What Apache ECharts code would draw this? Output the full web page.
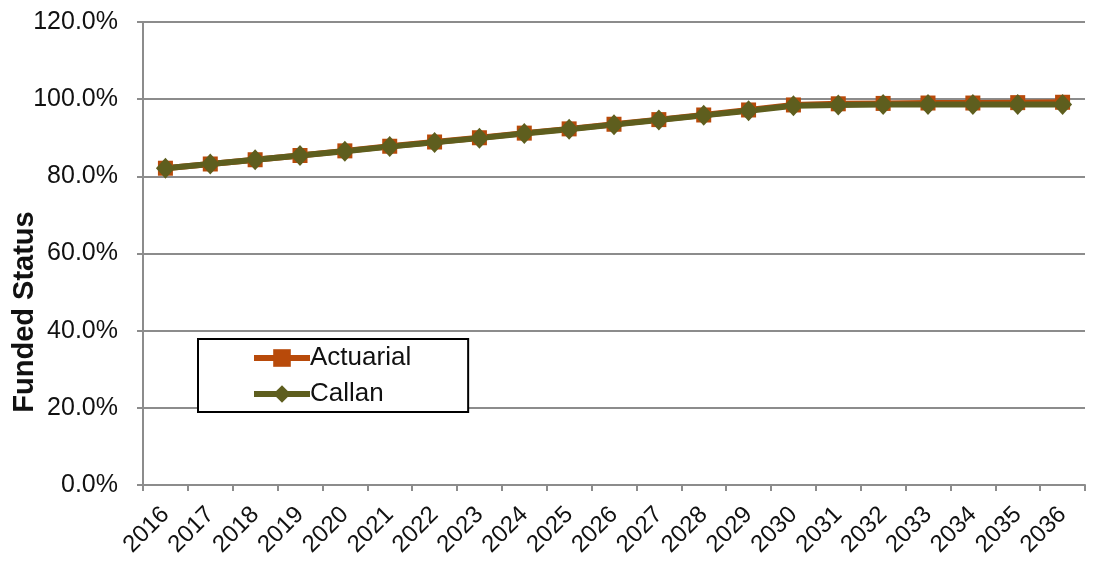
<!DOCTYPE html>
<html>
<head>
<meta charset="utf-8">
<script src="https://cdn.jsdelivr.net/npm/echarts@6/dist/echarts.min.js"></script>
<style>html,body{margin:0;padding:0;background:#fff;}#c{width:1099px;height:561px;}</style>
</head>
<body>
<div id="c"></div>
<script>
const years = ['2016','2017','2018','2019','2020','2021','2022','2023','2024','2025','2026','2027','2028','2029','2030','2031','2032','2033','2034','2035','2036'];
const actuarial = [82.1, 83.2, 84.3, 85.4, 86.6, 87.8, 88.9, 90.0, 91.2, 92.3, 93.5, 94.7, 95.9, 97.2, 98.5, 98.8, 98.9, 99.0, 99.0, 99.1, 99.2];
const callan = [82.1, 83.2, 84.3, 85.4, 86.5, 87.7, 88.8, 89.9, 91.1, 92.2, 93.4, 94.6, 95.8, 97.0, 98.3, 98.5, 98.6, 98.6, 98.6, 98.6, 98.6];
const yTicks = {min: 0, max: 120, interval: 20};

const chart = echarts.init(document.getElementById('c'), null, {renderer: 'canvas'});
const font = 'Liberation Sans, Arial, sans-serif';
chart.setOption({
  animation: false,
  backgroundColor: '#fff',
  grid: {left: 143, right: 14, top: 22, bottom: 76},
  xAxis: {
    type: 'category',
    data: years,
    boundaryGap: true,
    axisLine: {lineStyle: {color: '#8c8c8c', width: 2}},
    axisTick: {show: true, length: 6, lineStyle: {color: '#8c8c8c', width: 2}},
    axisLabel: {rotate: 45, fontSize: 24, fontFamily: font, color: '#111', margin: 26,
      interval: 0, verticalAlign: 'middle'}
  },
  yAxis: {
    type: 'value',
    min: yTicks.min, max: yTicks.max, interval: yTicks.interval,
    axisLine: {show: true, lineStyle: {color: '#8c8c8c', width: 2}},
    axisTick: {show: true, length: 6, lineStyle: {color: '#8c8c8c', width: 2}},
    splitLine: {lineStyle: {color: '#8c8c8c', width: 2}},
    axisLabel: {fontSize: 25, fontFamily: font, color: '#111', margin: 25,
      formatter: v => v.toFixed(1) + '%'}
  },
  legend: {
    orient: 'vertical',
    left: 198, top: 339,
    backgroundColor: '#fff',
    borderColor: '#000', borderWidth: 2,
    padding: [6, 57, 5, 53],
    itemGap: 10,
    itemWidth: 56, itemHeight: 22,
    lineStyle: {width: 6},
    textStyle: {fontSize: 26, fontFamily: font, color: '#111', padding: [0, 0, 0, -5]},
    data: ['Actuarial', 'Callan']
  },
  graphic: [{
    type: 'text',
    x: 25, y: 312,
    rotation: Math.PI / 2,
    style: {text: 'Funded Status', font: 'bold 29px ' + font, fill: '#111',
      textAlign: 'center', textVerticalAlign: 'middle'}
  }],
  series: [
    {name: 'Actuarial', type: 'line', data: actuarial,
      symbol: 'rect', symbolSize: 15,
      lineStyle: {color: '#B84A0A', width: 6},
      itemStyle: {color: '#B84A0A'}},
    {name: 'Callan', type: 'line', data: callan,
      symbol: 'diamond', symbolSize: [19, 21],
      lineStyle: {color: '#5E5E1E', width: 6},
      itemStyle: {color: '#5E5E1E'}}
  ]
});
</script>
</body>
</html>
